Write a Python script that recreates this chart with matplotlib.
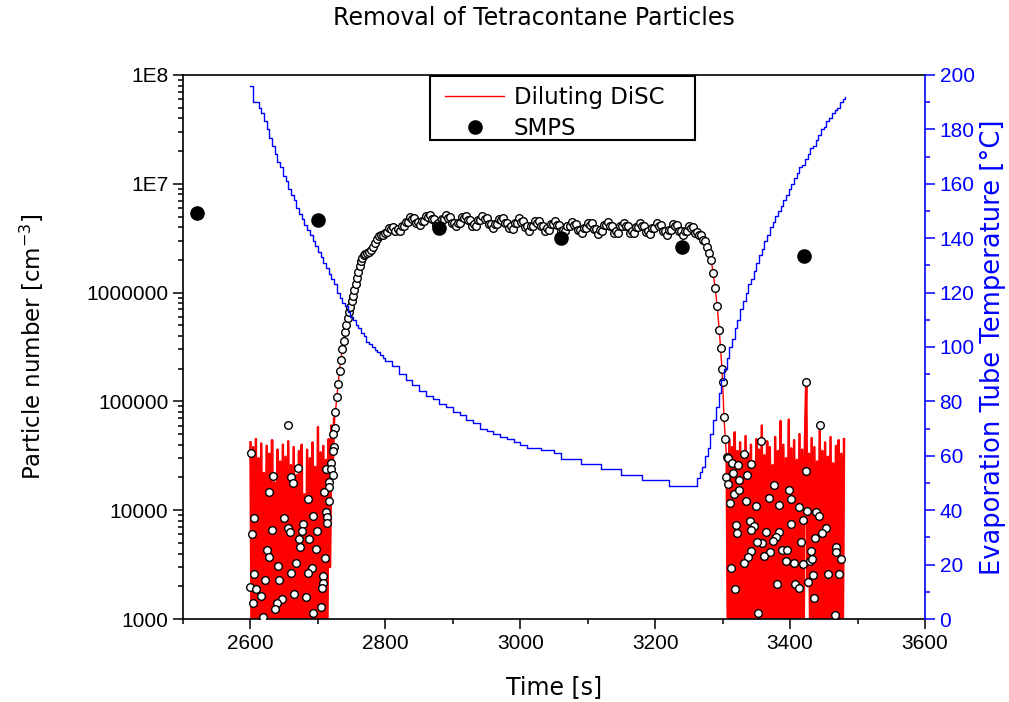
import numpy as np
import matplotlib.pyplot as plt
from matplotlib.patches import Rectangle
from matplotlib.ticker import FixedLocator, MultipleLocator, LogLocator, NullFormatter

plt.rcParams['font.family'] = ['Liberation Sans', 'DejaVu Sans']
WIDE = ['DejaVu Sans']

# Diluting DiSC, noise before the particles arrive (every 2 s from 2600 s)
noise1_start = 2600
noise1 = [42000, 300, 38000, 500, 45000, 250, 30000, 700, 41000, 400,
          22000, 350, 39000, 600, 33000, 200, 44000, 450, 18000, 300,
          36000, 800, 28000, 250, 40000, 500, 31000, 350, 43000, 600,
          26000, 300, 38000, 450, 21000, 250, 35000, 700, 40000, 300,
          14000, 500, 36000, 350, 30000, 600, 42000, 250, 25000, 400,
          58000, 300, 34000, 700, 39000, 450, 29000, 900, 45000, 3000,
          60000, 25000, 70000]

# rising edge
rise_t = [2726, 2728, 2730, 2732, 2734, 2736, 2738, 2740, 2742, 2744, 2746, 2748,
          2750, 2752, 2754, 2756, 2758, 2760, 2762, 2764, 2766, 2768, 2770,
          2773, 2776, 2779, 2782, 2785, 2788, 2791, 2794, 2797]
rise_v = [8.0e4, 1.1e5, 1.45e5, 1.9e5, 2.4e5, 3.0e5, 3.6e5, 4.3e5, 5.0e5, 5.8e5, 6.6e5, 7.4e5,
          8.3e5, 9.3e5, 1.05e6, 1.2e6, 1.35e6, 1.55e6, 1.75e6, 1.95e6, 2.1e6, 2.2e6, 2.25e6,
          2.3e6, 2.35e6, 2.45e6, 2.6e6, 2.85e6, 3.1e6, 3.3e6, 3.4e6, 3.4e6]

# plateau, every 3 s from 2800 s, in 1E6 cm-3
plat_start = 2800
plat = [3.50, 3.60, 3.95, 3.85, 4.00, 3.70, 3.85, 3.70, 4.05, 4.10,
        4.50, 4.50, 4.95, 4.70, 4.85, 4.35, 4.45, 4.15, 4.55, 4.55,
        5.10, 4.95, 5.20, 4.70, 4.70, 4.20, 4.35, 4.20, 4.70, 4.75,
        5.15, 4.85, 4.95, 4.35, 4.40, 4.05, 4.40, 4.40, 4.95, 4.85,
        5.10, 4.60, 4.60, 4.10, 4.25, 4.10, 4.60, 4.65, 5.05, 4.75,
        4.80, 4.25, 4.25, 3.90, 4.25, 4.25, 4.75, 4.65, 4.85, 4.40,
        4.40, 3.90, 4.05, 3.85, 4.35, 4.40, 4.80, 4.50, 4.55, 4.00,
        4.05, 3.70, 4.05, 4.05, 4.55, 4.40, 4.55, 4.05, 4.05, 3.65,
        3.90, 3.80, 4.30, 4.25, 4.55, 4.15, 4.15, 3.65, 3.80, 3.65,
        4.10, 4.10, 4.50, 4.20, 4.25, 3.75, 3.80, 3.50, 3.90, 3.90,
        4.35, 4.20, 4.35, 3.85, 3.85, 3.45, 3.75, 3.70, 4.20, 4.15,
        4.45, 4.05, 4.05, 3.55, 3.70, 3.55, 4.05, 4.05, 4.40, 4.05,
        4.05, 3.55, 3.70, 3.50, 4.00, 4.00, 4.40, 4.10, 4.10, 3.60,
        3.70, 3.45, 3.90, 3.90, 4.35, 4.10, 4.15, 3.65, 3.70, 3.40,
        3.80, 3.80, 4.25, 4.05, 4.15, 3.65, 3.70, 3.35, 3.70, 3.70,
        4.10, 3.90, 4.00, 3.55, 3.60, 3.35, 3.40, 3.05, 3.00, 2.60]

# falling edge
drop_t = [3280, 3283, 3286, 3289, 3292, 3295, 3297, 3299, 3300, 3302, 3304]
drop_v = [2.3e6, 2.0e6, 1.5e6, 1.1e6, 7.5e5, 4.5e5, 3.1e5, 2.0e5, 1.5e5, 7.2e4, 4.5e4]

# noise after the particles are removed (every 2 s from 3306 s)
noise2_start = 3306
noise2 = [30000, 400, 45000, 600, 38000, 300, 52000, 800, 35000, 250,
          42000, 500, 30000, 350, 48000, 700, 33000, 300, 40000, 450,
          28000, 600, 45000, 250, 36000, 500, 60000, 350, 32000, 700,
          43000, 300, 38000, 550, 26000, 400, 47000, 300, 35000, 650,
          66000, 250, 40000, 500, 30000, 350, 68000, 600, 37000, 300,
          44000, 450, 29000, 700, 50000, 350, 36000, 500, 41000, 152000,
          2000, 33000, 450, 46000, 300, 38000, 600, 28000, 400, 61000,
          350, 35000, 550, 42000, 300, 31000, 650, 47000, 400, 27000,
          500, 39000, 300, 44000, 700, 33000, 400, 45000]

# single DiSC points inside the noise
mk1_t = [2601, 2656, 2670, 2633, 2660, 2663, 2628, 2686, 2605, 2650,
         2693, 2602, 2632, 2656, 2658, 2678, 2677, 2672, 2687, 2699,
         2674, 2697, 2624, 2628, 2710, 2641, 2667, 2660, 2691, 2686,
         2605, 2707, 2599, 2608, 2622, 2643, 2708, 2706, 2615, 2665,
         2683, 2603, 2647, 2640, 2636, 2705, 2619, 2692,
         2712, 2719, 2720, 2722, 2716, 2717, 2709, 2717, 2712, 2714,
         2714, 2725, 2722, 2724, 2723]
mk1_v = [33800, 60700, 24200, 20600, 20300, 17600, 14600, 12800, 8400, 8400,
         8850, 6000, 6530, 6810, 6350, 7460, 6480, 5400, 5400, 6480,
         4560, 4400, 4300, 3740, 3660, 3070, 3250, 2670, 2960, 2630,
         2570, 2480, 1980, 1870, 2280, 2280, 2130, 1910, 1630, 1690,
         1600, 1390, 1530, 1410, 1230, 1300, 1050, 1130,
         23700, 27300, 23700, 21100, 18000, 16500, 14600, 12200, 9700, 8700,
         7570, 56500, 49800, 38300, 35000]
mk2_t = [3306, 3308, 3305, 3308, 3314, 3316, 3323, 3325, 3317, 3325,
         3336, 3332, 3342, 3357, 3311, 3334, 3349, 3369, 3376, 3383,
         3399, 3401, 3413, 3424, 3424, 3444, 3425, 3438, 3443, 3419,
         3320, 3321, 3340, 3346, 3342, 3364, 3383, 3379, 3401, 3453,
         3447, 3437, 3374, 3359, 3351, 3416, 3388, 3396, 3370, 3342,
         3431, 3338, 3361, 3394, 3406, 3419, 3429, 3432, 3332, 3468,
         3468, 3475, 3312, 3456, 3473, 3434, 3426, 3380, 3407, 3414,
         3318, 3436, 3353, 3466]
mk2_v = [31000, 30000, 20300, 17400, 27400, 21800, 26000, 18900, 14100, 15300,
         21000, 32600, 26400, 43300, 11600, 12100, 11000, 13000, 17100, 11200,
         15300, 12600, 10600, 22900, 152000, 60700, 9800, 9700, 8900, 8100,
         7300, 6120, 7950, 7200, 6580, 6260, 6350, 5710, 7410, 6910,
         6120, 5510, 5210, 4960, 5140, 5060, 4300, 4300, 4160, 4250,
         4220, 3690, 3800, 3440, 3250, 3200, 3440, 3530, 3250, 4550,
         4160, 3530, 2920, 2590, 2620, 2540, 2170, 2080, 2080, 1910,
         1870, 1570, 1140, 1090]

# SMPS
smps_t = [2520, 2700, 2880, 3060, 3240, 3420]
smps_v = [5.4e6, 4.65e6, 3.95e6, 3.2e6, 2.65e6, 2.15e6]

# evaporation tube temperature
temp1_start, temp1_step = 2600, 4
temp1 = [196, 190, 190, 188, 186, 183, 180, 177, 174, 171, 168, 166, 163, 161, 158, 156,
         154, 151, 149, 147, 145, 143, 141, 139, 137, 135, 133, 131, 129, 127, 125, 123,
         120, 118, 116, 115, 113, 111, 110, 108, 107, 105, 104, 102, 101, 100, 99, 98,
         97, 96, 95]
temp2_start, temp2_step = 2810, 10
temp2 = [93, 90, 88, 86, 84, 82, 81, 79, 78, 76, 75, 73, 72, 70, 69, 68, 67, 66, 65, 64,
         63, 63, 62, 62, 61, 59, 59, 59, 57, 57, 57, 55, 55, 55, 53, 53, 53, 51, 51, 51,
         51, 49, 49, 49, 49, 49]
temp3_start, temp3_step = 3262, 4
temp3 = [52, 54, 56, 60, 63, 68, 73, 78, 83, 88, 92, 96, 100, 103, 107, 110, 114, 117,
         120, 123, 125, 128, 131, 134, 136, 139, 141, 144, 146, 148, 150, 152, 154, 156,
         158, 160, 162, 164, 166, 167, 169, 171, 173, 174, 176, 178, 180, 181, 183, 184,
         186, 187, 188, 190, 191, 192]

ytick_vals = [1e3, 1e4, 1e5, 1e6, 1e7, 1e8]
ytick_labels = ['1000', '10000', '100000', '1000000', '1E7', '1E8']

n1_t = np.arange(len(noise1)) * 2 + noise1_start
pl_t = np.arange(len(plat)) * 3 + plat_start
pl_v = np.array(plat) * 1e6
n2_t = np.arange(len(noise2)) * 2 + noise2_start
curve_t = np.concatenate([rise_t, pl_t, drop_t])
curve_v = np.concatenate([rise_v, pl_v, drop_v])
disc_t = np.concatenate([n1_t, curve_t, n2_t])
disc_v = np.concatenate([noise1, curve_v, noise2])

temp_t = np.concatenate([np.arange(len(temp1)) * temp1_step + temp1_start,
                         np.arange(len(temp2)) * temp2_step + temp2_start,
                         np.arange(len(temp3)) * temp3_step + temp3_start])
temp_v = np.concatenate([temp1, temp2, temp3])

fig = plt.figure(figsize=(10.09, 7.02), dpi=100)
ax = fig.add_axes([0.1814, 0.1182, 0.9167 - 0.1814, 0.8932 - 0.1182])

red, = ax.plot(disc_t, disc_v, color='#ff0000', lw=1.0, label='Diluting DiSC', zorder=2)
# the dense noise bands look solid in the original
ax.plot(n1_t, noise1, color='#ff0000', lw=1.8, zorder=2)
ax.plot(n2_t, noise2, color='#ff0000', lw=1.8, zorder=2)
mk = dict(ls='none', marker='o', ms=5.5, mfc='white', mec='black', mew=1.0, zorder=3)
ax.plot(curve_t, curve_v, **mk)
ax.plot(mk1_t, mk1_v, **mk)
ax.plot(mk2_t, mk2_v, **mk)
smps, = ax.plot(smps_t, smps_v, ls='none', marker='o', ms=9.5, color='black', label='SMPS', zorder=4)

ax.set_yscale('log')
ax.set_ylim(1000, 1e8)
ax.set_xlim(2500, 3600)
ax.yaxis.set_major_locator(FixedLocator(ytick_vals))
ax.set_yticklabels(ytick_labels)
ax.yaxis.set_minor_locator(LogLocator(base=10, subs=np.arange(2, 10)))
ax.yaxis.set_minor_formatter(NullFormatter())
ax.xaxis.set_major_locator(MultipleLocator(200))
ax.xaxis.set_minor_locator(MultipleLocator(100))
ax.tick_params(which='major', direction='out', length=7, width=1.1, labelsize=15)
ax.tick_params(which='minor', direction='out', length=3.5, width=1.1)
ax.tick_params(axis='x', which='both', top=False)
for s in ['left', 'top', 'bottom']:
    ax.spines[s].set_linewidth(1.2)
ax.spines['right'].set_visible(False)
ax.set_xlabel('Time [s]', fontsize=17, family=WIDE, labelpad=16)
ax.set_ylabel('Particle number [cm$^{-3}$]', fontsize=16.5, family=WIDE, labelpad=29)
fig.text(534 / 1009, 1 - 18 / 702, 'Removal of Tetracontane Particles', fontsize=17,
         family=WIDE, ha='center', va='center')

ax2 = ax.twinx()
ax2.plot(temp_t, temp_v, color='#0000ff', lw=1.0, drawstyle='steps-post')
ax2.set_ylim(0, 200)
ax2.yaxis.set_major_locator(MultipleLocator(20))
ax2.yaxis.set_minor_locator(MultipleLocator(10))
ax2.tick_params(which='major', direction='out', length=7, width=1.1, labelsize=15,
                colors='#0000ff')
ax2.tick_params(which='minor', direction='out', length=3.5, width=1.1, colors='#0000ff')
for s in ['left', 'top', 'bottom']:
    ax2.spines[s].set_visible(False)
ax2.spines['right'].set_color('#0000ff')
ax2.spines['right'].set_linewidth(1.2)
ax2.set_ylabel('Evaporation Tube Temperature [°C]', fontsize=18.5, family=WIDE,
               color='#0000ff', labelpad=4)

# legend frame is drawn on its own so the padding can be uneven like the original
ax2.add_patch(Rectangle((430 / 1009, 1 - 140 / 702), 265 / 1009, 64 / 702,
                        transform=fig.transFigure, facecolor='white', edgecolor='black',
                        lw=1.5, zorder=5, clip_on=False))
leg = ax2.legend([red, smps], ['Diluting DiSC', 'SMPS'], loc='upper left',
                 bbox_to_anchor=(438 / 1009, 1 - 79 / 702), bbox_transform=fig.transFigure,
                 borderaxespad=0, prop={'family': WIDE, 'size': 16.5}, frameon=False,
                 handlelength=2.6, handletextpad=0.4, labelspacing=0.35, borderpad=0.3)
leg.set_zorder(6)

fig.savefig('out.png', dpi=100)
